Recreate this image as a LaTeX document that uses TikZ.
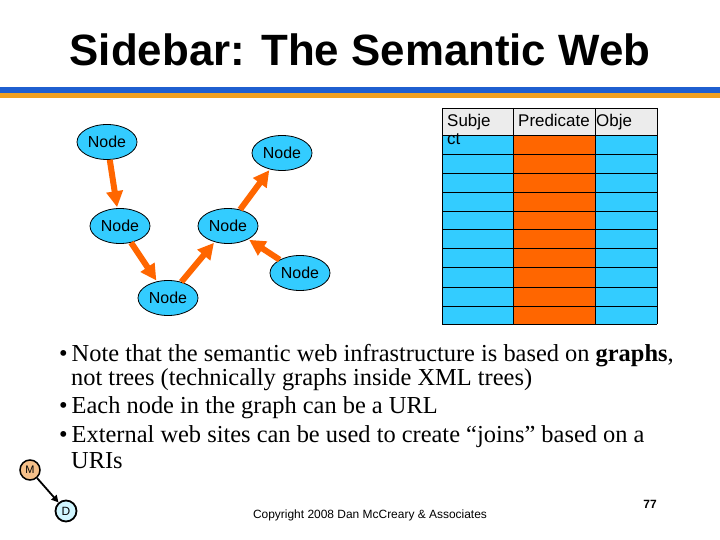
\documentclass[tikz,border=0pt]{standalone}
\usepackage{fontspec}
\setmainfont{Liberation Serif}
\setsansfont{Liberation Sans}
\usetikzlibrary{arrows.meta,shapes.geometric}
\definecolor{nodecyan}{HTML}{33CCFF}
\definecolor{edgeor}{HTML}{FF6600}
\definecolor{barblue}{HTML}{1F5FD0}
\definecolor{baror}{HTML}{F0A020}
\definecolor{mfill}{HTML}{F5C08A}
\definecolor{dfill}{HTML}{D0F6FF}
\tikzset{
 gnode/.style={ellipse,draw=black,line width=0.8bp,fill=nodecyan,minimum width=60bp,minimum height=35bp,inner sep=0pt,font=\sffamily\fontsize{16}{16}\selectfont},
 gedge/.style={draw=edgeor,line width=6bp,-{Triangle[length=16bp,width=16bp]},shorten >=1bp},
 cell/.style={draw=black,line width=0.6bp},
 btxt/.style={anchor=west,font=\fontsize{24.5}{24.5}\selectfont,inner sep=0pt},
 htxt/.style={anchor=north west,inner sep=0pt,align=left,font=\sffamily\fontsize{17}{17}\selectfont},
}
\begin{document}
\begin{tikzpicture}[x=1bp,y=-1bp]
\useasboundingbox (0,0) rectangle (720,540);
\fill[white] (0,0) rectangle (720,540);
\node[font=\sffamily\bfseries\fontsize{44}{44}\selectfont] (title) at (360,50) {Sidebar: The Semantic Web};
\fill[barblue] (0,87) rectangle (720,93);
\fill[baror] (0,93) rectangle (720,98);
% graph
\node[gnode] (n1) at (107,142) {Node};
\node[gnode] (n2) at (282,153) {Node};
\node[gnode] (n3) at (120,226) {Node};
\node[gnode] (n4) at (228,226) {Node};
\node[gnode] (n5) at (300,273) {Node};
\node[gnode] (n6) at (168,298) {Node};
\draw[gedge] (n1) -- (n3);
\draw[gedge] (n3) -- (n6);
\draw[gedge] (n6) -- (n4);
\draw[gedge] (n4) -- (n2);
\draw[gedge] (n5) -- (n4);
% table
\fill[gray!15] (442,108) rectangle (657,135);
\fill[nodecyan] (442,135) rectangle (513,324);
\fill[edgeor] (513,135) rectangle (595,324);
\fill[nodecyan] (595,135) rectangle (657,324);
\foreach \y in {108,135,154,173,192,211,229,248,267,287,306,324} \draw[cell] (442,\y) -- (657,\y);
\foreach \x in {442,513,595,657} \draw[cell] (\x,108) -- (\x,324);
\node[htxt] (h1) at (447,114) {Subje\\[1bp]ct};
\node[htxt] (h2) at (518,114) {Predicate};
\node[htxt] (h3) at (596,114) {Obje};
% bullets
\node[btxt] (b1) at (59,356) {•\hspace{4bp}Note that the semantic web infrastructure is based on \textbf{graphs},};
\node[btxt] (b1b) at (71,380) {not trees (technically graphs inside XML trees)};
\node[btxt] (b2) at (59,408) {•\hspace{4bp}Each node in the graph can be a URL};
\node[btxt] (b3) at (59,437) {•\hspace{4bp}External web sites can be used to create “joins” based on a};
\node[btxt] (b3b) at (71,461) {URIs};
% M D
\node[circle,draw=black,line width=1.5bp,fill=mfill,minimum size=20bp,inner sep=0pt,font=\sffamily\fontsize{11}{11}\selectfont] (m) at (30,470) {M};
\node[circle,draw=black,line width=1.8bp,fill=dfill,minimum size=21bp,inner sep=0pt,font=\sffamily\fontsize{12}{12}\selectfont] (d) at (66,511) {D};
\draw[line width=1.8bp,-{Triangle[length=7bp,width=7bp]}] (m) -- (d);
\node[font=\sffamily\fontsize{12}{12}\selectfont] (copy) at (370,515) {Copyright 2008 Dan Mc{}Creary \& Associates};
\node[font=\sffamily\bfseries\fontsize{12}{12}\selectfont] (pg) at (650,504) {77};
\end{tikzpicture}
\end{document}
